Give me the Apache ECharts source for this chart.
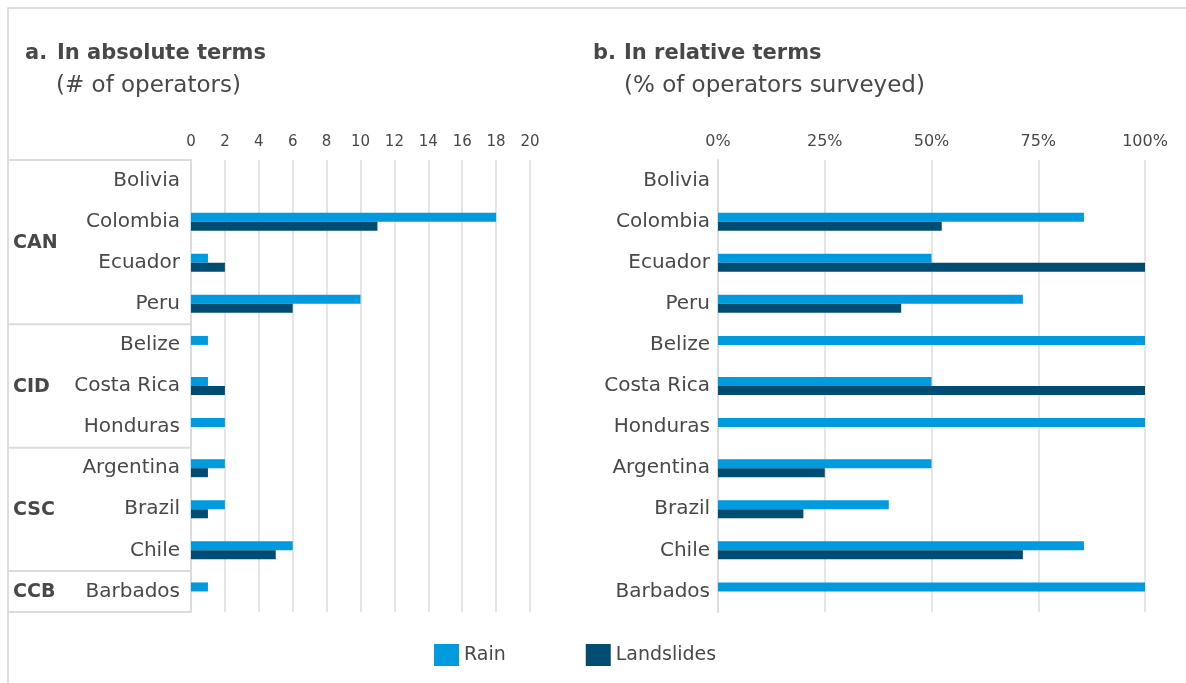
<!DOCTYPE html>
<html><head><meta charset="utf-8">
<script src="https://cdn.jsdelivr.net/npm/echarts@6/dist/echarts.min.js"></script>
<style>html,body{margin:0;padding:0;background:#fff}#c{width:1186px;height:683px}</style>
</head><body><div id="c"></div>
<script>
// ---- data ----
const countries = ['Bolivia','Colombia','Ecuador','Peru','Belize','Costa Rica','Honduras','Argentina','Brazil','Chile','Barbados'];
const groupNames = ['CAN','CID','CSC','CCB'];
const groupSizes = [4,3,3,1];
const rainAbs = [0,18,1,10,1,1,2,2,2,6,1];
const landAbs = [0,11,2,6,0,2,0,1,1,5,0];
const rainPct = [0,85.7,50,71.4,100,50,100,50,40,85.7,100];
const landPct = [0,52.4,100,42.9,0,100,0,25,20,71.4,0];
const absAxis = {min:0, max:20, interval:2};
const pctAxis = {min:0, max:100, interval:25};
const seriesNames = ['Rain','Landslides'];

// ---- style ----
const FONT = '"DejaVu Sans", sans-serif';
const TXT = '#484848';
const RAIN = '#009ADE', LAND = '#004C73';
const GRID_C = '#dcdcdc';

const chart = echarts.init(document.getElementById('c'), null, {renderer:'canvas'});

function yAx(gi, margin){
  return {type:'category', gridIndex:gi, data:countries, inverse:true,
    axisLine:{show:true, lineStyle:{color:GRID_C, width:2}}, axisTick:{show:false},
    axisLabel:{fontSize:20, color:TXT, margin:margin, fontFamily:FONT},
    splitLine:{show:false}};
}
function xAx(gi, cfg, fmt, fs){
  return {type:'value', gridIndex:gi, position:'top', min:cfg.min, max:cfg.max, interval:cfg.interval,
    axisLine:{show:false}, axisTick:{show:false},
    axisLabel:{fontSize:fs, color:TXT, margin:10, fontFamily:FONT, formatter:fmt},
    splitLine:{show:true, lineStyle:{color:GRID_C, width:1.5}}};
}
function bar(name, data, gi, color){
  return {type:'bar', name:name, data:data, xAxisIndex:gi, yAxisIndex:gi,
    barWidth:9, barGap:'0%', itemStyle:{color:color}, silent:true};
}

chart.setOption({
  animation:false,
  textStyle:{fontFamily:FONT},
  title:[
    {text:'{n|a.}{t|In absolute terms}', left:20, top:38,
      textStyle:{rich:{n:{width:32, fontSize:21, fontWeight:'bold', color:TXT, fontFamily:FONT},
                       t:{fontSize:21, fontWeight:'bold', color:TXT, fontFamily:FONT}}}},
    {text:'(# of operators)', left:51, top:70, textStyle:{fontSize:23, fontWeight:'normal', color:TXT, fontFamily:FONT}},
    {text:'{n|b.}{t|In relative terms}', left:588, top:38,
      textStyle:{rich:{n:{width:31, fontSize:21, fontWeight:'bold', color:TXT, fontFamily:FONT},
                       t:{fontSize:21, fontWeight:'bold', color:TXT, fontFamily:FONT}}}},
    {text:'(% of operators surveyed)', left:619, top:70, textStyle:{fontSize:23, fontWeight:'normal', color:TXT, fontFamily:FONT}}
  ],
  legend:{data:seriesNames, left:429, top:639, itemWidth:25, itemHeight:22, itemGap:80, icon:'rect',
    textStyle:{fontSize:19, color:TXT, fontFamily:FONT}, selectedMode:false},
  grid:[{left:191, top:160, width:339, height:452}, {left:718, top:160, width:427, height:452}],
  xAxis:[xAx(0, absAxis, '{value}', 15), xAx(1, pctAxis, '{value}%', 16)],
  yAxis:[yAx(0, 11), yAx(1, 8)],
  series:[bar(seriesNames[0], rainAbs, 0, RAIN), bar(seriesNames[1], landAbs, 0, LAND),
          bar(seriesNames[0], rainPct, 1, RAIN), bar(seriesNames[1], landPct, 1, LAND)]
});

// group boxes and labels on the left table
const centers = countries.map(c => chart.convertToPixel({yAxisIndex:0}, c));
const band = centers[1] - centers[0];
const axisX = chart.convertToPixel({xAxisIndex:0}, 0);
const g = [];
g.push({type:'polyline', shape:{points:[[8,683],[8,8],[1186,8]]}, style:{stroke:'#d4d4d4', lineWidth:1.5, fill:null}, silent:true});
let idx = 0;
const bounds = [centers[0] - band/2];
groupNames.forEach((name, k) => {
  const first = idx, last = idx + groupSizes[k] - 1;
  const mid = (centers[first] + centers[last]) / 2;
  g.push({type:'text', x:13, y:mid + 1, style:{text:name, font:'bold 19px ' + FONT, fill:TXT, textAlign:'left', textVerticalAlign:'middle'}, silent:true});
  bounds.push(centers[last] + band/2);
  idx += groupSizes[k];
});
bounds.forEach(y => {
  g.push({type:'line', shape:{x1:8, y1:y, x2:axisX, y2:y}, style:{stroke:GRID_C, lineWidth:2}, silent:true});
});
chart.setOption({graphic:g});
</script>
</body></html>
